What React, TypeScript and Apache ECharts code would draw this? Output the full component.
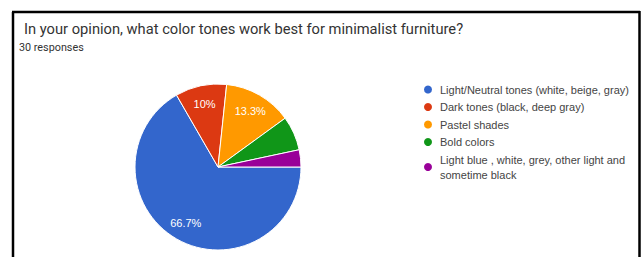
import React, { useEffect, useRef } from "react";
import * as echarts from "echarts";

const titleText = "In your opinion, what color tones work best for minimalist furniture?";
const subtitleText = "30 responses";
const categories = [
  "Light/Neutral tones (white, beige, gray)",
  "Dark tones (black, deep gray)",
  "Pastel shades",
  "Bold colors",
  "Light blue , white, grey, other light and sometime black",
];
const legendLabels = [
  "Light/Neutral tones (white, beige, gray)",
  "Dark tones (black, deep gray)",
  "Pastel shades",
  "Bold colors",
  "Light blue , white, grey, other light and\nsometime black",
];
const counts = [20, 3, 4, 2, 1];
const colors = ["#3366cc", "#dc3912", "#ff9900", "#109618", "#990099"];

export default function App() {
  const ref = useRef<HTMLDivElement>(null);
  useEffect(() => {
    document.body.style.margin = "0";
    if (!ref.current) return;
    const chart = echarts.init(ref.current, undefined, { renderer: "svg" });
    const total = counts.reduce((a, b) => a + b, 0);
    const pct = (v: number) => {
      const p = Math.round((v / total) * 1000) / 10;
      return `${p}%`;
    };
    chart.setOption({
      animation: false,
      color: colors,
      title: [
        {
          text: titleText,
          left: 19,
          top: 16,
          textStyle: { fontFamily: "Roboto", fontSize: 14.7, fontWeight: "normal", color: "#333333" },
        },
        {
          text: subtitleText,
          left: 14,
          top: 37,
          textStyle: { fontFamily: "Roboto", fontSize: 10.8, fontWeight: "normal", color: "#333333" },
        },
      ],
      legend: {
        orient: "vertical",
        left: 417,
        top: 77,
        icon: "circle",
        itemWidth: 10,
        itemHeight: 10,
        itemGap: 2.5,
        data: categories,
        formatter: (name: string) => legendLabels[categories.indexOf(name)],
        textStyle: { fontFamily: "Arial, Liberation Sans", fontSize: 11, color: "#444444", lineHeight: 15, padding: [0, 0, 0, 2] },
      },
      graphic: [
        { type: "line", shape: { x1: 13, y1: 12, x2: 13, y2: 257 }, style: { stroke: "#000", lineWidth: 2.5 } },
        { type: "line", shape: { x1: 12, y1: 12, x2: 640, y2: 12 }, style: { stroke: "#000", lineWidth: 2.5 } },
        { type: "line", shape: { x1: 639.5, y1: 11, x2: 639.5, y2: 257 }, style: { stroke: "#000", lineWidth: 2.5 } },
      ],
      series: [
        {
          type: "pie",
          center: [218, 167],
          radius: [0, 83],
          startAngle: 0,
          clockwise: true,
          silent: true,
          label: { show: false },
          labelLine: { show: false },
          itemStyle: { borderColor: "#ffffff", borderWidth: 1 },
          data: categories.map((name, i) => ({ name, value: counts[i] })),
        },
        {
          type: "pie",
          center: [218, 167],
          radius: [40, 83],
          startAngle: 0,
          clockwise: true,
          silent: true,
          itemStyle: { color: "rgba(0,0,0,0)" },
          label: {
            show: true,
            position: "inside",
            color: "#ffffff",
            fontFamily: "Arial, Liberation Sans",
            fontSize: 11,
            formatter: (p: any) => (p.value / total >= 0.08 ? pct(p.value) : ""),
          },
          labelLine: { show: false },
          data: categories.map((name, i) => ({ name: "lbl-" + name, value: counts[i] })),
        },
      ],
    });
    return () => chart.dispose();
  }, []);
  return <div ref={ref} style={{ width: 641, height: 257 }} />;
}
